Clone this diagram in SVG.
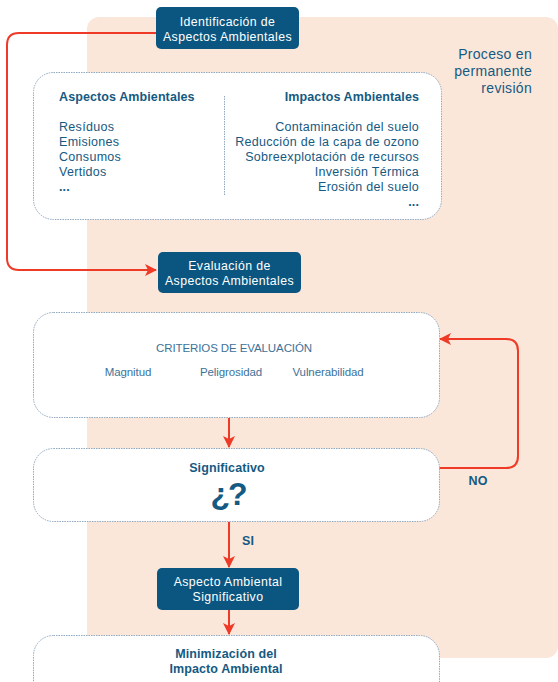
<svg xmlns="http://www.w3.org/2000/svg" width="558" height="682" viewBox="0 0 558 682">
<defs>
<style>
.bg{fill:#fbe6da}
.dark{fill:#0b5680}
.wt{fill:#ffffff;font-family:"Liberation Sans",Arial,sans-serif;font-size:12.3px;text-anchor:middle;letter-spacing:0.4px}
.dot{fill:#ffffff;stroke:#8fa9c1;stroke-width:1;stroke-dasharray:1.5 1}
.t{fill:#155a82;font-family:"Liberation Sans",Arial,sans-serif;font-size:12.5px;letter-spacing:0.3px}
.b{font-weight:bold;letter-spacing:0.1px}
.lt{fill:#3d7298;font-family:"Liberation Sans",Arial,sans-serif;font-size:11.5px;text-anchor:middle;letter-spacing:-0.1px}
.ln{fill:none;stroke:#ee3a26;stroke-width:2}
</style>
<marker id="ah" viewBox="0 0 12 12" refX="11" refY="6" markerWidth="12" markerHeight="12" markerUnits="userSpaceOnUse" orient="auto">
<path d="M0,0 L12,6 L0,12 L3,6 Z" fill="#ee3a26"/>
</marker>
</defs>
<rect class="bg" x="87" y="17" width="471" height="641" rx="12"/>
<g id="proceso">
<text class="t" x="532" y="59" style="font-size:14px" text-anchor="end">Proceso en</text>
<text class="t" x="532" y="76" style="font-size:14px" text-anchor="end">permanente</text>
<text class="t" x="532" y="93" style="font-size:14px" text-anchor="end">revisión</text>
</g>
<g id="connectors">
<path class="ln" d="M156,33 H19 Q7,33 7,45 V258 Q7,270 19,270 H156" marker-end="url(#ah)"/>
<path class="ln" d="M229,418 V447" marker-end="url(#ah)"/>
<path class="ln" d="M439,468 H506 Q518,468 518,456 V351 Q518,339 506,339 H440" marker-end="url(#ah)"/>
<path class="ln" d="M229,522 V567" marker-end="url(#ah)"/>
<path class="ln" d="M229,610 V634" marker-end="url(#ah)"/>
<text class="t b" x="478" y="485" text-anchor="middle">NO</text>
<text class="t b" x="248" y="545" text-anchor="middle">SI</text>
</g>
<g id="identificacion">
<rect class="dark" x="156" y="7" width="143" height="42" rx="5"/>
<text class="wt" x="227.5" y="26">Identificación de</text>
<text class="wt" x="227.5" y="41">Aspectos Ambientales</text>
</g>
<g id="aspectos-impactos">
<rect class="dot" x="33.5" y="72.5" width="408" height="147" rx="20"/>
<line x1="224.5" y1="96" x2="224.5" y2="196" stroke="#8fa9c1" stroke-width="1" stroke-dasharray="1.5 1"/>
<text class="t b" x="59" y="101">Aspectos Ambientales</text>
<text class="t" x="59" y="131">Resíduos</text>
<text class="t" x="59" y="146">Emisiones</text>
<text class="t" x="59" y="161">Consumos</text>
<text class="t" x="59" y="176">Vertidos</text>
<text class="t b" x="59" y="191">...</text>
<text class="t b" x="419" y="101" text-anchor="end">Impactos Ambientales</text>
<text class="t" x="419" y="131" text-anchor="end">Contaminación del suelo</text>
<text class="t" x="419" y="146" text-anchor="end">Reducción de la capa de ozono</text>
<text class="t" x="419" y="161" text-anchor="end">Sobreexplotación de recursos</text>
<text class="t" x="419" y="176" text-anchor="end">Inversión Térmica</text>
<text class="t" x="419" y="191" text-anchor="end">Erosión del suelo</text>
<text class="t b" x="419" y="206" text-anchor="end">...</text>
</g>
<g id="evaluacion">
<rect class="dark" x="158" y="252" width="143" height="41" rx="5"/>
<text class="wt" x="229.5" y="270">Evaluación de</text>
<text class="wt" x="229.5" y="285">Aspectos Ambientales</text>
</g>
<g id="criterios">
<rect class="dot" x="33.5" y="312.5" width="406" height="105" rx="20"/>
<text class="lt" x="234" y="352">CRITERIOS DE EVALUACIÓN</text>
<text class="lt" x="128" y="376">Magnitud</text>
<text class="lt" x="231" y="376">Peligrosidad</text>
<text class="lt" x="328" y="376">Vulnerabilidad</text>
</g>
<g id="significativo">
<rect class="dot" x="33.5" y="448.5" width="406" height="73" rx="20"/>
<text class="t b" x="227" y="472" text-anchor="middle">Significativo</text>
<text class="t b" x="228" y="505" text-anchor="middle" style="font-size:32px;letter-spacing:-2px">¿?</text>
</g>
<g id="aspecto-significativo">
<rect class="dark" x="157" y="568" width="142" height="42" rx="5"/>
<text class="wt" x="228" y="586">Aspecto Ambiental</text>
<text class="wt" x="228" y="601">Significativo</text>
</g>
<g id="minimizacion">
<rect class="dot" x="33.5" y="635.5" width="406" height="80" rx="20"/>
<text class="t b" x="226" y="658" text-anchor="middle">Minimización del</text>
<text class="t b" x="226" y="673" text-anchor="middle">Impacto Ambiental</text>
</g>
</svg>
